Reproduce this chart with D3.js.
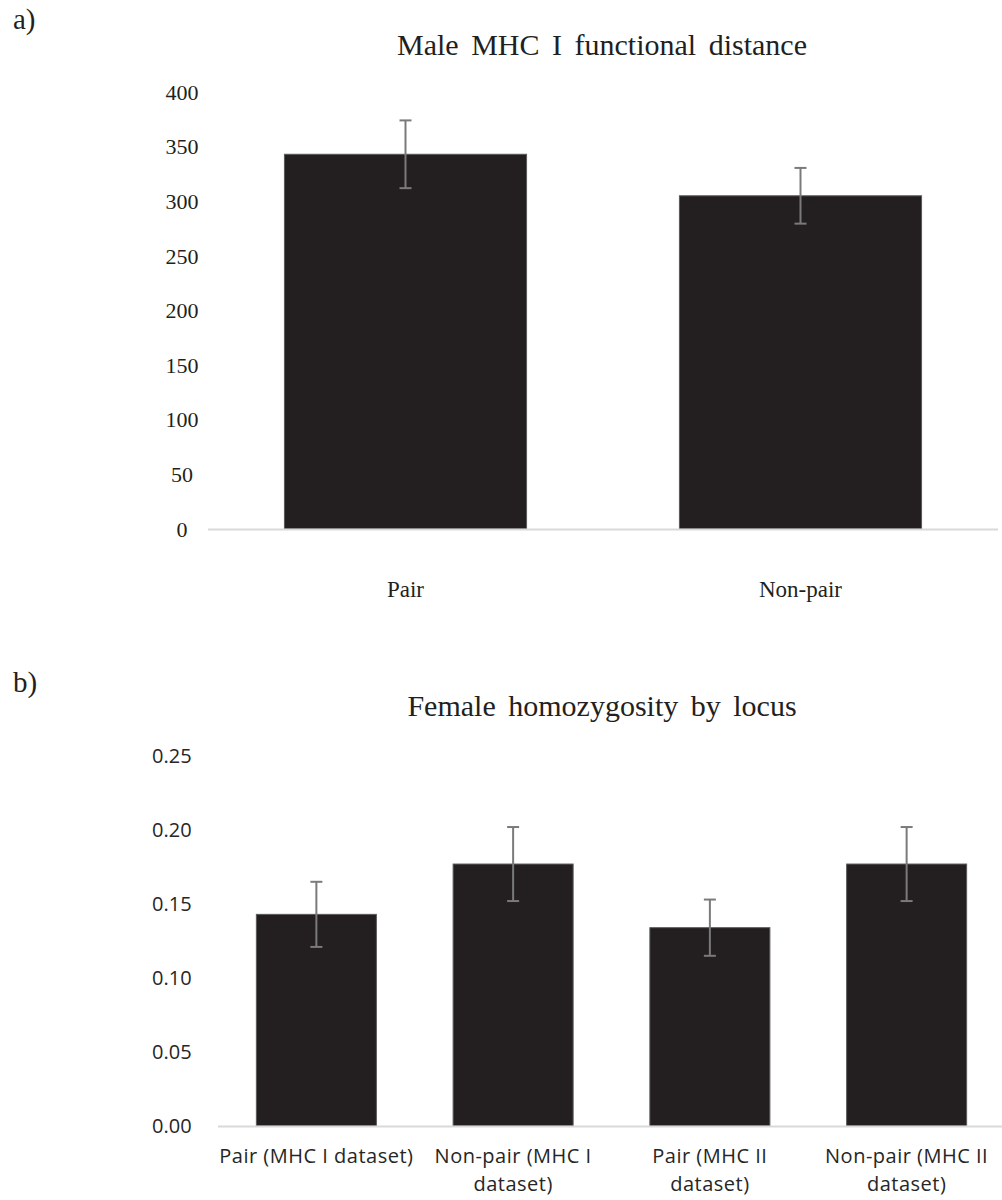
<!DOCTYPE html>
<html>
<head>
<meta charset="utf-8">
<script src="https://cdn.jsdelivr.net/npm/d3@7"></script>
<style>
    body { margin: 0; background: #fff; }
    svg { display: block; }
    .serif { font-family: "Liberation Serif", "Times New Roman", serif; fill: #231f20; }
    .sans { font-family: "Open Sans", "Noto Sans", sans-serif; fill: #262626; }
</style>
</head>
<body>
<div class="chart"></div>
<script>
// panel a
var maleCategories = ['Pair', 'Non-pair'];
var maleValues = [343, 305];
var maleErrors = [31, 25.5];
var maleTicks = [0, 50, 100, 150, 200, 250, 300, 350, 400];

// panel b
var femaleCategories = [
    ['Pair (MHC I dataset)'],
    ['Non-pair (MHC I', 'dataset)'],
    ['Pair (MHC II', 'dataset)'],
    ['Non-pair (MHC II', 'dataset)']
];
var femaleValues = [0.143, 0.177, 0.134, 0.177];
var femaleErrors = [0.022, 0.025, 0.019, 0.025];
var femaleTicks = [0, 0.05, 0.10, 0.15, 0.20, 0.25];

var width = 1002;
var height = 1200;

var svg = d3.select('.chart')
    .append('svg')
    .attr('width', width)
    .attr('height', height);

function drawPanel(opts) {
    var g = svg.append('g');

    var x = d3.scaleBand()
        .domain(d3.range(opts.values.length))
        .range(opts.xRange)
        .paddingInner(opts.padding)
        .paddingOuter(opts.padding / 2);

    var y = d3.scaleLinear()
        .domain([0, opts.max])
        .range(opts.yRange);

    // panel letter
    g.append('text')
        .attr('class', 'serif')
        .attr('x', 13)
        .attr('y', opts.letterY)
        .style('font-size', '29px')
        .text(opts.letter);

    // title
    g.append('text')
        .attr('class', 'serif')
        .attr('x', 602)
        .attr('y', opts.titleY)
        .attr('text-anchor', 'middle')
        .style('font-size', '30px')
        .style('word-spacing', '5px')
        .text(opts.title);

    // y tick labels (no axis line in the original)
    g.selectAll('.ytick')
        .data(opts.ticks)
        .enter()
        .append('text')
        .attr('class', opts.fontClass)
        .attr('x', opts.tickX)
        .attr('y', function (d) { return y(d); })
        .attr('dy', '0.35em')
        .attr('text-anchor', opts.tickAnchor)
        .style('font-size', opts.tickSize)
        .text(opts.format);

    // bars
    g.selectAll('.bar')
        .data(opts.values)
        .enter()
        .append('rect')
        .attr('x', function (d, i) { return x(i); })
        .attr('y', function (d) { return y(d); })
        .attr('width', x.bandwidth())
        .attr('height', function (d) { return y(0) - y(d); })
        .attr('fill', '#231f20')
        .attr('stroke', '#5a5a5a')
        .attr('stroke-width', 1);

    // baseline
    g.append('line')
        .attr('x1', opts.xRange[0])
        .attr('x2', opts.xRange[1])
        .attr('y1', y(0) + 0.5)
        .attr('y2', y(0) + 0.5)
        .attr('stroke', '#d9d9d9')
        .attr('stroke-width', 2);

    // error bars
    var err = g.selectAll('.err')
        .data(opts.values)
        .enter()
        .append('g')
        .attr('stroke', '#7a7a7a')
        .attr('stroke-width', 2);

    err.append('line')
        .attr('x1', function (d, i) { return x(i) + x.bandwidth() / 2; })
        .attr('x2', function (d, i) { return x(i) + x.bandwidth() / 2; })
        .attr('y1', function (d, i) { return y(d + opts.errors[i]); })
        .attr('y2', function (d, i) { return y(d - opts.errors[i]); });

    [1, -1].forEach(function (s) {
        err.append('line')
            .attr('x1', function (d, i) { return x(i) + x.bandwidth() / 2 - 6; })
            .attr('x2', function (d, i) { return x(i) + x.bandwidth() / 2 + 6; })
            .attr('y1', function (d, i) { return y(d + s * opts.errors[i]); })
            .attr('y2', function (d, i) { return y(d + s * opts.errors[i]); });
    });

    // category labels
    var labels = g.selectAll('.xlab')
        .data(opts.categories)
        .enter()
        .append('text')
        .attr('class', opts.fontClass)
        .attr('text-anchor', 'middle')
        .attr('x', function (d, i) { return x(i) + x.bandwidth() / 2; })
        .attr('y', opts.labelY)
        .style('font-size', opts.labelSize)
        .style('letter-spacing', opts.labelSpacing);

    labels.selectAll('tspan')
        .data(function (d) { return Array.isArray(d) ? d : [d]; })
        .enter()
        .append('tspan')
        .attr('x', function () { return d3.select(this.parentNode).attr('x'); })
        .attr('dy', function (d, i) { return i === 0 ? 0 : opts.lineHeight; })
        .text(function (d) { return d; });
}

drawPanel({
    letter: 'a)',
    letterY: 29,
    title: 'Male MHC I functional distance',
    titleY: 55,
    categories: maleCategories,
    values: maleValues,
    errors: maleErrors,
    ticks: maleTicks,
    max: 400,
    xRange: [208, 998],
    yRange: [529, 92],
    padding: 0.387,
    tickX: 182,
    tickAnchor: 'middle',
    tickSize: '22px',
    labelSize: '23px',
    labelSpacing: '0px',
    fontClass: 'serif',
    format: function (d) { return d; },
    labelY: 597,
    lineHeight: 24
});

drawPanel({
    letter: 'b)',
    letterY: 692,
    title: 'Female homozygosity by locus',
    titleY: 716,
    categories: femaleCategories,
    values: femaleValues,
    errors: femaleErrors,
    ticks: femaleTicks,
    max: 0.25,
    xRange: [218, 1005],
    yRange: [1126, 756],
    padding: 0.39,
    tickX: 152,
    tickAnchor: 'start',
    tickSize: '20px',
    labelSize: '20px',
    labelSpacing: '0.5px',
    fontClass: 'sans',
    format: d3.format('.2f'),
    labelY: 1163,
    lineHeight: 28
});
</script>
</body>
</html>
